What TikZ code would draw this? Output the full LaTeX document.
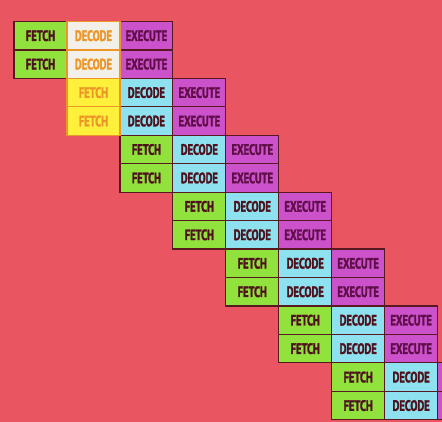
\documentclass[tikz,border=0pt]{standalone}
\usepackage{fontspec}
\newfontfamily\cellfont{PT Sans Bold}[FakeStretch=0.7, FakeBold=2]
\usetikzlibrary{positioning}

\definecolor{bgred}{RGB}{233,86,97}
\definecolor{cellline}{RGB}{88,24,32}
\definecolor{cellink}{RGB}{78,18,30}
\definecolor{execink}{RGB}{96,14,72}
\definecolor{fetchgreen}{RGB}{146,226,62}
\definecolor{decodeblue}{RGB}{142,226,240}
\definecolor{execmagenta}{RGB}{204,82,204}
\definecolor{hiwhite}{RGB}{242,240,232}
\definecolor{hiyellow}{RGB}{255,240,60}
\definecolor{hiorange}{RGB}{236,150,40}

\begin{document}
\begin{tikzpicture}[x=1pt, y=-1pt, node distance=0pt]
	\tikzset{cell/.style={draw=cellline, line width=1.2pt, minimum width=52.95pt, minimum height=28.45pt,
			inner sep=0pt, outer sep=0pt, text=cellink, font=\cellfont\fontsize{15}{15}\selectfont}}
	\tikzset{fetch/.style={cell, fill=fetchgreen}}
	\tikzset{decode/.style={cell, fill=decodeblue}}
	\tikzset{execute/.style={cell, fill=execmagenta, text=execink}}
	\tikzset{hidecode/.style={cell, fill=hiwhite, text=hiorange}}
	\tikzset{hifetch/.style={cell, fill=hiyellow, text=hiorange}}
	\tikzset{hiline/.style={draw=hiorange, line width=1.2pt}}
	\useasboundingbox (0,0) rectangle (442,422);
	\clip (0,0) rectangle (442,422);
	\fill[bgred] (0,0) rectangle (442,422);
	% pipeline rows (the last two execute cells run off the right edge)
	\foreach \i/\fs/\ds/\ex in {0/fetch/hidecode/EXECUTE, 1/fetch/hidecode/EXECUTE,
			2/hifetch/decode/EXECUTE, 3/hifetch/decode/EXECUTE, 4/fetch/decode/EXECUTE,
			5/fetch/decode/EXECUTE, 6/fetch/decode/EXECUTE, 7/fetch/decode/EXECUTE,
			8/fetch/decode/EXECUTE, 9/fetch/decode/EXECUTE, 10/fetch/decode/EXECUTE,
			11/fetch/decode/EXECUTE, 12/fetch/decode/{}, 13/fetch/decode/{}} {
		\pgfmathtruncatemacro{\k}{\i/2}
		\node[\fs]      (f\i) at ({40.5+52.95*\k}, {35.7+28.45*\i}) {FETCH};
		\node[\ds]      (d\i) [right = of f\i]   {DECODE};
		\node[execute]  (e\i) [right = of d\i]   {\ex};
	}
	\foreach \n in {d0,d1,f2,f3}
		\draw[hiline] (\n.north west) rectangle (\n.south east);
\end{tikzpicture}
\end{document}
